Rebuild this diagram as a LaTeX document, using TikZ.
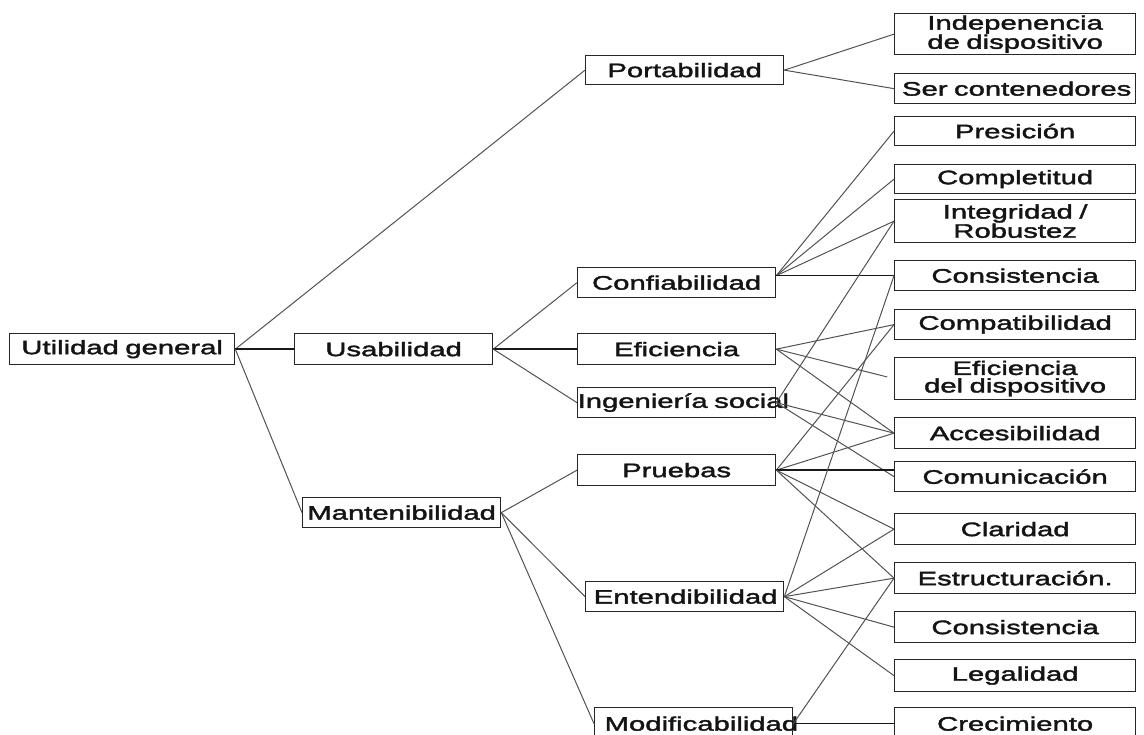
\documentclass[tikz,border=0pt]{standalone}
\usepackage{fontspec}
\setmainfont{Liberation Sans}[FakeStretch=1.5, FakeBold=2]
\begin{document}
\begin{tikzpicture}[x=1bp, y=-1bp,
  box/.style={draw=black!85, line width=1.3bp, rectangle, inner sep=0pt,
    anchor=north west, align=center, text=black!92,
    font=\fontsize{19.5bp}{17.5bp}\selectfont},
  wd/.style={text width=#1},
  ht/.style={minimum height=#1},
  link/.style={draw=black!68, line width=1bp},
  flat/.style={draw=black!90, line width=1.4bp}]
\useasboundingbox (0,0) rectangle (1144,735);
\clip (0,0) rectangle (1144,735);
% left and middle columns
\node[box, wd=225bp, ht=31bp] (ug) at (9,333) {Utilidad general};
\node[box, wd=198bp, ht=31bp] (us) at (294,333) {Usabilidad};
\node[box, wd=198bp, ht=30bp] (ma) at (302,497) {\mbox{Mantenibilidad}};
\node[box, wd=198bp, ht=29bp] (po) at (585,55) {Portabilidad};
\node[box, wd=198bp, ht=30bp] (co) at (577,267) {Confiabilidad};
\node[box, wd=198bp, ht=31bp] (ef) at (577,333) {Eficiencia};
\node[box, wd=198bp, ht=30bp] (in) at (577,387) {\mbox{Ingenier\'ia social}};
\node[box, wd=198bp, ht=31bp] (pr) at (577,454) {Pruebas};
\node[box, wd=198bp, ht=30bp] (en) at (585,581) {\mbox{\hspace*{2bp}Entendibilidad}};
\node[box, wd=198bp, ht=32bp] (mo) at (594,707) {\mbox{\hspace*{10bp}Modificabilidad}};
% right column
\node[box, wd=241bp, ht=41bp] (r1) at (894,13) {Indepenencia\\de dispositivo};
\node[box, wd=241bp, ht=30bp] (r2) at (894,73) {\mbox{\hspace*{3bp}Ser contenedores}};
\node[box, wd=241bp, ht=29bp] (r3) at (894,116) {Presici\'on};
\node[box, wd=241bp, ht=29bp] (r4) at (894,164) {Completitud};
\node[box, wd=241bp, ht=43bp] (r5) at (894,199) {Integridad /\\Robustez};
\node[box, wd=241bp, ht=30bp] (r6) at (894,260) {Consistencia};
\node[box, wd=241bp, ht=30bp] (r7) at (894,309) {Compatibilidad};
\node[box, wd=241bp, ht=42bp] (r8) at (894,357) {Eficiencia\\del dispositivo};
\node[box, wd=241bp, ht=31bp] (r9) at (894,417) {Accesibilidad};
\node[box, wd=241bp, ht=30bp] (r10) at (894,461) {Comunicaci\'on};
\node[box, wd=241bp, ht=31bp] (r11) at (894,513) {Claridad};
\node[box, wd=241bp, ht=31bp] (r12) at (894,562) {Estructuraci\'on.};
\node[box, wd=241bp, ht=31bp] (r13) at (894,611) {Consistencia};
\node[box, wd=241bp, ht=32bp] (r14) at (894,659) {Legalidad};
\node[box, wd=241bp, ht=32bp] (r15) at (894,707) {Crecimiento};
% first level
\draw[link] (ug.east) -- (po.west);
\draw[flat] (ug.east) -- (us.west);
\draw[link] (ug.east) -- (ma.west);
% second level
\draw[link] (us.east) -- (co.west);
\draw[flat] (us.east) -- (ef.west);
\draw[link] (us.east) -- (in.west);
\draw[link] (ma.east) -- (pr.west);
\draw[link] (ma.east) -- (en.west);
\draw[link] (ma.east) -- (mo.west);
% Portabilidad
\draw[link] (po.east) -- (r1.west);
\draw[link] (po.east) -- (r2.west);
% Confiabilidad
\draw[link] (r6.west -| co.east) -- (r3.west);
\draw[link] (r6.west -| co.east) -- (r4.west);
\draw[link] (r6.west -| co.east) -- (r5.west);
\draw[flat] (r6.west -| co.east) -- (r6.west);
% Eficiencia
\draw[link] (ef.east) -- (r7.west);
\draw[link, shorten >=7bp] (ef.east) -- (r8.west);
\draw[link] (ef.east) -- (r9.west);
% Ingenieria social
\draw[link] (in.east) -- (r5.west);
\draw[link] (in.east) -- (r9.west);
\draw[link] (in.east) -- (r10.west);
% Pruebas
\draw[link] (pr.east) -- (r7.west);
\draw[link] (pr.east) -- (r9.west);
\draw[flat] (pr.east) -- (pr.east -| r10.west);
\draw[link] (pr.east) -- (r11.west);
\draw[link] (pr.east) -- (r12.west);
% Entendibilidad
\draw[link] (en.east) -- (r6.west);
\draw[link] (en.east) -- (r11.west);
\draw[link] (en.east) -- (r12.west);
\draw[link] (en.east) -- (r13.west);
\draw[link] (en.east) -- (r14.west);
% Modificabilidad
\draw[flat] (mo.east) -- (r15.west);
\draw[link] (mo.east) -- (r12.west);
\end{tikzpicture}
\end{document}
